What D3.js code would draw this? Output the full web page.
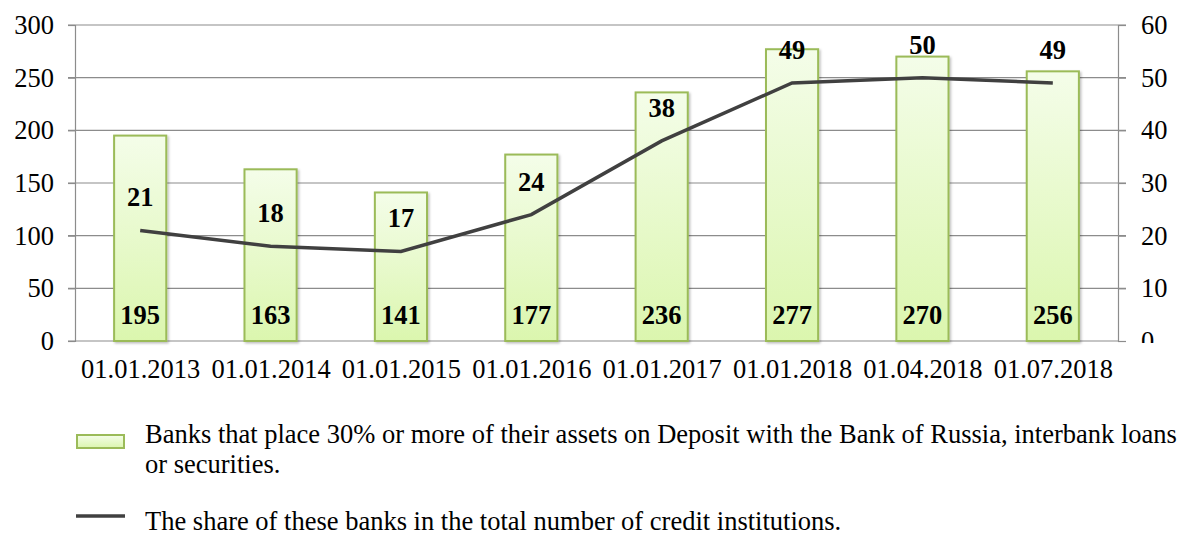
<!DOCTYPE html>
<html><head><meta charset="utf-8">
<script src="https://cdn.jsdelivr.net/npm/d3@7"></script>
<style>body{margin:0;background:#fff}svg{display:block;font-family:"Liberation Serif","Times New Roman",serif}</style>
</head><body><svg id="c" width="1184" height="535"></svg>
<script>
const categories = ["01.01.2013","01.01.2014","01.01.2015","01.01.2016","01.01.2017","01.01.2018","01.04.2018","01.07.2018"];
const bankCounts = [195,163,141,177,236,277,270,256];
const sharePct = [21,18,17,24,38,49,50,49];
const leftTicks = [0,50,100,150,200,250,300];
const rightTicks = [0,10,20,30,40,50,60];
const legendBar = ["Banks that place 30% or more of their assets on Deposit with the Bank of Russia, interbank loans","or securities."];
const legendLine = "The share of these banks in the total number of credit institutions.";

const FS = 26.5;
const svg = d3.select("#c");
const m = {l:75, r:1118, t:25, b:341};
const x = d3.scaleBand().domain(categories).range([m.l, m.r]).paddingInner(0.6).paddingOuter(0.3);
const xc = d3.scalePoint().domain(categories).range([m.l, m.r]).padding(0.5);
const yL = d3.scaleLinear().domain([0,300]).range([m.b, m.t]);
const yR = d3.scaleLinear().domain([0,60]).range([m.b, m.t]);

const defs = svg.append("defs");
const g = defs.append("linearGradient").attr("id","bg").attr("x1",0).attr("y1",0).attr("x2",0).attr("y2",1);
g.append("stop").attr("offset","0%").attr("stop-color","#f4fde9");
g.append("stop").attr("offset","100%").attr("stop-color","#dbf6ae");
const f = defs.append("filter").attr("id","sh").attr("x","-20%").attr("y","-20%").attr("width","150%").attr("height","150%");
f.append("feDropShadow").attr("dx",1.5).attr("dy",1.5).attr("stdDeviation",1.2).attr("flood-color","#000").attr("flood-opacity",0.25);
defs.append("clipPath").attr("id","rclip").append("rect").attr("x",1120).attr("y",0).attr("width",80).attr("height",343);

// gridlines
svg.append("g").selectAll("line").data(leftTicks.filter(d=>d>0)).join("line")
  .attr("x1",m.l-7).attr("x2",m.r+8).attr("y1",d=>yL(d)).attr("y2",d=>yL(d))
  .attr("stroke","#8c8c8c").attr("stroke-width",1.2);

// left axis
const la = svg.append("g").attr("transform",`translate(${m.l},0)`)
  .call(d3.axisLeft(yL).tickValues(leftTicks).tickSize(7).tickPadding(14));
la.select(".domain").attr("stroke","#8c8c8c").attr("stroke-width",1.2);
la.selectAll(".tick line").attr("stroke","#8c8c8c").attr("stroke-width",1.2);
la.selectAll("text").attr("font-size",FS).attr("fill","#000").attr("font-family","Liberation Serif");

// right axis (bottom "0" label clipped as in the original)
const ra = svg.append("g").attr("transform",`translate(${m.r},0)`)
  .call(d3.axisRight(yR).tickValues(rightTicks).tickSize(8).tickPadding(15));
ra.select(".domain").attr("stroke","#8c8c8c").attr("stroke-width",1.2);
ra.selectAll(".tick line").attr("stroke","#8c8c8c").attr("stroke-width",1.2);
ra.selectAll("text").attr("font-size",FS).attr("fill","#000").attr("font-family","Liberation Serif");
const rtext = svg.append("g").attr("clip-path","url(#rclip)").append("g").attr("transform",`translate(${m.r},0)`);
ra.selectAll(".tick text").each(function(){
  const tr = this.parentNode.getAttribute("transform");
  rtext.append("g").attr("transform",tr).node().appendChild(this);
});

// bottom axis
const ba = svg.append("g").attr("transform",`translate(0,${m.b})`)
  .call(d3.axisBottom(xc).tickSize(0).tickPadding(18));
ba.select(".domain").attr("stroke","#8c8c8c").attr("stroke-width",1.2).attr("d",`M${m.l-7},0H${m.r}`);
ba.selectAll("text").attr("font-size",FS).attr("fill","#000").attr("font-family","Liberation Serif");

// bars
svg.append("g").selectAll("rect").data(categories).join("rect")
  .attr("x",d=>x(d)).attr("width",x.bandwidth())
  .attr("y",(d,i)=>yL(bankCounts[i])).attr("height",(d,i)=>m.b-yL(bankCounts[i]))
  .attr("fill","url(#bg)").attr("stroke","#9bbb59").attr("stroke-width",2).attr("filter","url(#sh)");

// line
svg.append("path").datum(sharePct)
  .attr("d",d3.line().x((d,i)=>xc(categories[i])).y(d=>yR(d)))
  .attr("fill","none").attr("stroke","#404040").attr("stroke-width",3.5);

// bar labels
svg.append("g").selectAll("text").data(bankCounts).join("text")
  .attr("x",(d,i)=>xc(categories[i])).attr("y",m.b-17).attr("text-anchor","middle")
  .attr("font-size",FS).attr("font-weight","bold").text(d=>d);

// line labels
svg.append("g").selectAll("text").data(sharePct).join("text")
  .attr("x",(d,i)=>xc(categories[i])).attr("y",d=>yR(d)-24).attr("text-anchor","middle")
  .attr("font-size",FS).attr("font-weight","bold").text(d=>d);

// legend
const lg = svg.append("g");
lg.append("rect").attr("x",77).attr("y",435).attr("width",47).attr("height",13)
  .attr("fill","url(#bg)").attr("stroke","#9bbb59").attr("stroke-width",2);
lg.selectAll("text.lb").data(legendBar).join("text").attr("class","lb")
  .attr("x",145).attr("y",(d,i)=>443+i*30).attr("font-size",FS).text(d=>d);
lg.append("line").attr("x1",76).attr("x2",125).attr("y1",516).attr("y2",516)
  .attr("stroke","#404040").attr("stroke-width",3.5);
lg.append("text").attr("x",145).attr("y",530).attr("font-size",FS).text(legendLine);
</script></body></html>
